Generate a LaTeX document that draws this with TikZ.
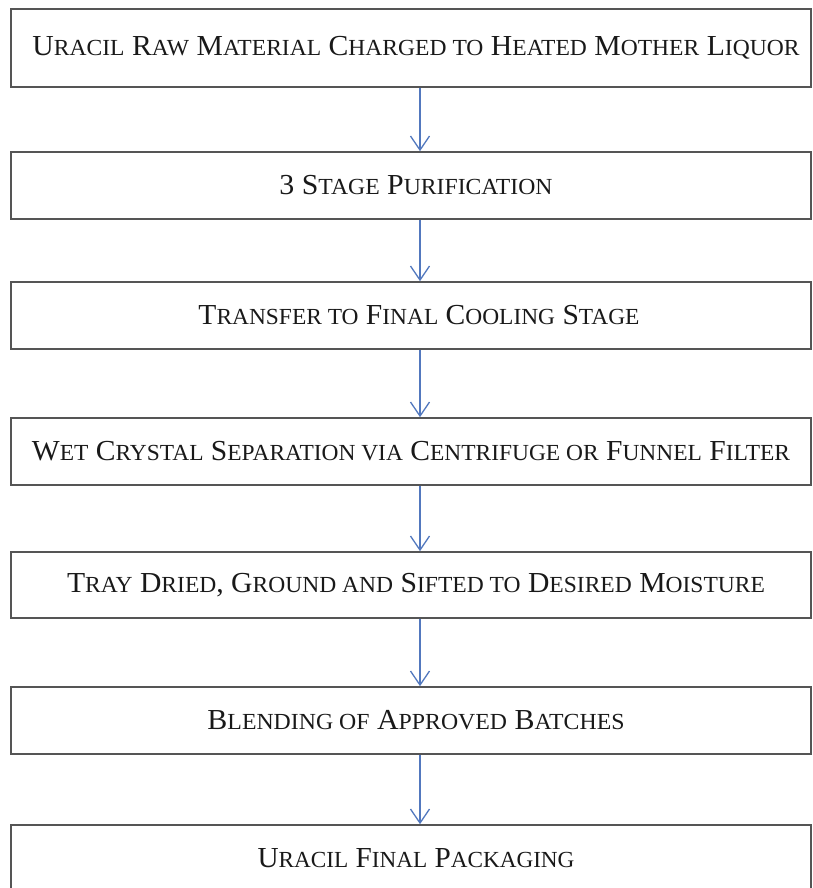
\documentclass[tikz,border=0pt]{standalone}
\usepackage{fontspec}
\usepackage{graphicx}
\setmainfont{Liberation Serif}
\usetikzlibrary{arrows.meta}
\definecolor{boxline}{HTML}{555555}
\definecolor{arrowblue}{HTML}{5278BE}
\newcommand\lc[1]{{\fontsize{23pt}{25pt}\selectfont #1}}
% #1 target width, #2 doubled x-offset of the text, #3 text
\newcommand\fitw[3]{\hspace*{#2pt}\resizebox{#1pt}{\height}{#3}}
\tikzset{
  box/.style={draw=boxline, line width=1.6pt, rectangle, minimum width=800pt, inner sep=0pt,
    font=\fontsize{29pt}{31pt}\selectfont, text=black!90},
  arr/.style={draw=arrowblue, line width=1.3pt,
    -{Straight Barb[length=14pt,width=19pt,line width=1.3pt]}}
}
\begin{document}
\begin{tikzpicture}[x=1pt,y=-1pt]
\useasboundingbox (0,0) rectangle (812,888);
\node[box, minimum height=78pt] (b1) at (411,48)
  {\fitw{767}{10}{U\lc{RACIL} R\lc{AW} M\lc{ATERIAL} C\lc{HARGED TO} H\lc{EATED} M\lc{OTHER} L\lc{IQUOR}}};
\node[box, minimum height=67pt] (b2) at (411,185.5)
  {\fitw{273}{10}{3 S\lc{TAGE} P\lc{URIFICATION}}};
\node[box, minimum height=67pt] (b3) at (411,315.5)
  {\fitw{441}{16}{T\lc{RANSFER TO} F\lc{INAL} C\lc{OOLING} S\lc{TAGE}}};
\node[box, minimum height=67pt] (b4) at (411,451.5)
  {\fitw{758}{0}{W\lc{ET} C\lc{RYSTAL} S\lc{EPARATION VIA} C\lc{ENTRIFUGE OR} F\lc{UNNEL} F\lc{ILTER}}};
\node[box, minimum height=66pt] (b5) at (411,585)
  {\fitw{698}{10}{T\lc{RAY} D\lc{RIED}, G\lc{ROUND AND} S\lc{IFTED TO} D\lc{ESIRED} M\lc{OISTURE}}};
\node[box, minimum height=67pt] (b6) at (411,720.5)
  {\fitw{417}{10}{B\lc{LENDING OF} A\lc{PPROVED} B\lc{ATCHES}}};
\node[box, minimum height=66pt] (b7) at (411,858)
  {\fitw{317}{10}{U\lc{RACIL} F\lc{INAL} P\lc{ACKAGING}}};
\coordinate (ax) at (420,0);
\draw[arr] (b1.south -| ax) -- (b2.north -| ax);
\draw[arr] (b2.south -| ax) -- (b3.north -| ax);
\draw[arr] (b3.south -| ax) -- (b4.north -| ax);
\draw[arr] (b4.south -| ax) -- (b5.north -| ax);
\draw[arr] (b5.south -| ax) -- (b6.north -| ax);
\draw[arr] (b6.south -| ax) -- (b7.north -| ax);
\end{tikzpicture}
\end{document}
